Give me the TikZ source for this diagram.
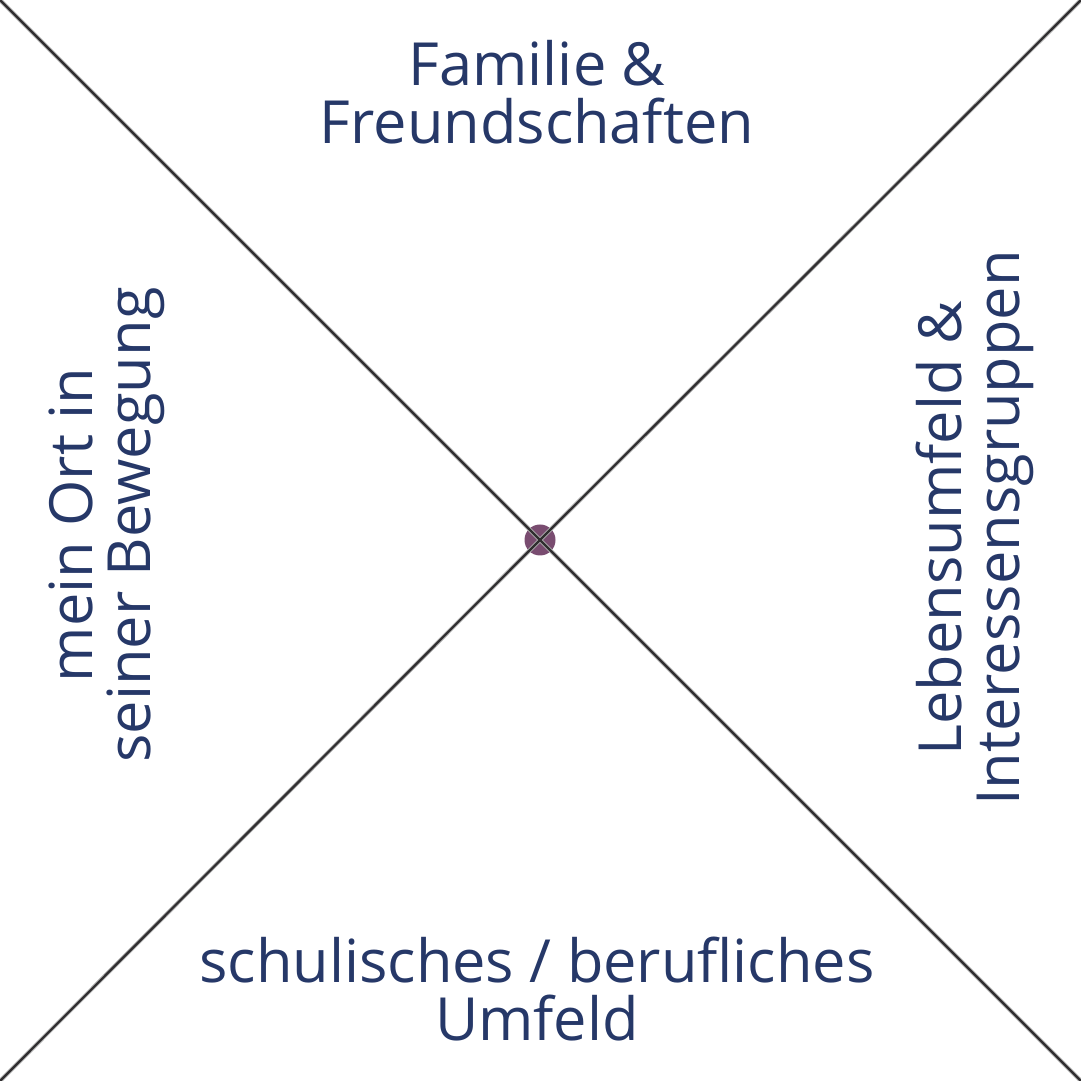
\documentclass[tikz,border=0pt]{standalone}
\usepackage{fontspec}
\setmainfont{Open Sans}
\usetikzlibrary{calc}

\begin{document}
\begin{tikzpicture}[x=1pt, y=1pt]

    % Styles for the cross lines, the centre dot and the labels
    \tikzset{halo/.style={line width=4pt, draw=crosshalo}}
    \tikzset{diag/.style={line width=2.2pt, draw=crossline}}
    \tikzset{hub/.style={circle, fill=hubfill, fill opacity=0.9, minimum size=31pt, inner sep=0pt}}
    \tikzset{lbl/.style={text=labelblue, align=center, inner sep=0pt,
        font=\fontsize{59.5}{58}\selectfont}}

    % Define colors for clarity
    \definecolor{crossline}{RGB}{48,46,48}
    \definecolor{crosshalo}{RGB}{175,175,175}
    \definecolor{hubfill}{RGB}{106,56,96}
    \definecolor{labelblue}{RGB}{38,56,104}

    % Square canvas
    \useasboundingbox (0,0) rectangle (1081,1081);

    % Corners of the square
    \coordinate (nw) at (0,1081);
    \coordinate (ne) at (1081,1081);
    \coordinate (sw) at (0,0);
    \coordinate (se) at (1081,0);

    % Central dot
    \node [hub] (mid) at (540,541) {};

    % The two diagonals, drawn over the dot
    \draw [halo] (nw) -- (mid.center) -- (se);
    \draw [halo] (sw) -- (mid.center) -- (ne);
    \draw [diag] (nw) -- (mid.center) -- (se);
    \draw [diag] (sw) -- (mid.center) -- (ne);

    % Labels of the four sectors
    \node [lbl] (top) at (537,989) {Familie \&\\Freundschaften};
    \node [lbl] (bottom) at (537,92) {schulisches / berufliches\\Umfeld};
    \node [lbl, rotate=90] (left) at (107,556) {mein Ort in\\seiner Bewegung};
    \node [lbl, rotate=90] (right) at (975,553) {Lebensumfeld \&\\Interessensgruppen};

\end{tikzpicture}
\end{document}
